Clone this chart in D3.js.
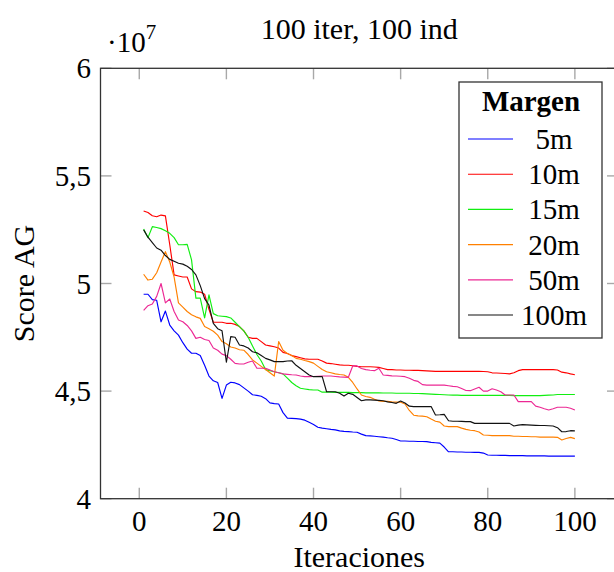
<!DOCTYPE html>
<html>
<head>
<meta charset="utf-8">
<script src="https://cdn.jsdelivr.net/npm/d3@7"></script>
<style>
  html, body { margin: 0; padding: 0; background: #fff; }
  svg text { font-family: "Liberation Serif", "Times New Roman", serif; fill: #000; }
</style>
</head>
<body>
<svg id="chart" width="614" height="572"></svg>
<script>
// Score AG (×10^7) per iteration for each margin setting
const iterations = d3.range(1, 101);

const margen5 = [
  4.950, 4.950, 4.925, 4.922, 4.822, 4.872, 4.807, 4.780, 4.760, 4.725,
  4.695, 4.676, 4.676, 4.665, 4.620, 4.570, 4.548, 4.540, 4.466, 4.528,
  4.541, 4.538, 4.530, 4.515, 4.500, 4.483, 4.480, 4.476, 4.465, 4.445,
  4.442, 4.440, 4.400, 4.374, 4.373, 4.372, 4.370, 4.365, 4.355, 4.345,
  4.332, 4.328, 4.325, 4.322, 4.320, 4.315, 4.313, 4.312, 4.310, 4.309,
  4.300, 4.293, 4.292, 4.290, 4.288, 4.286, 4.283, 4.281, 4.275, 4.268,
  4.268, 4.267, 4.267, 4.266, 4.266, 4.265, 4.262, 4.260, 4.258, 4.240,
  4.218, 4.218, 4.217, 4.217, 4.216, 4.216, 4.215, 4.215, 4.212, 4.203,
  4.202, 4.202, 4.201, 4.201, 4.200, 4.200, 4.200, 4.200, 4.199, 4.199,
  4.199, 4.199, 4.199, 4.198, 4.198, 4.198, 4.198, 4.198, 4.198, 4.198
];

const margen10 = [
  5.337, 5.330, 5.315, 5.310, 5.318, 5.314, 5.180, 5.040, 5.035, 5.030,
  5.030, 4.975, 4.962, 4.960, 4.950, 4.880, 4.820, 4.820, 4.820, 4.815,
  4.815, 4.810, 4.800, 4.780, 4.750, 4.745, 4.745, 4.730, 4.714, 4.710,
  4.706, 4.700, 4.680, 4.675, 4.665, 4.660, 4.655, 4.650, 4.648, 4.648,
  4.648, 4.640, 4.630, 4.628, 4.625, 4.622, 4.620, 4.620, 4.618, 4.615,
  4.613, 4.613, 4.613, 4.612, 4.610, 4.605, 4.600, 4.600, 4.598, 4.598,
  4.597, 4.597, 4.596, 4.596, 4.595, 4.594, 4.593, 4.592, 4.592, 4.592,
  4.592, 4.592, 4.592, 4.592, 4.592, 4.592, 4.592, 4.592, 4.591, 4.590,
  4.585, 4.584, 4.583, 4.582, 4.580, 4.585, 4.595, 4.600, 4.600, 4.600,
  4.600, 4.600, 4.600, 4.600, 4.600, 4.598, 4.588, 4.585, 4.580, 4.576
];

const margen15 = [
  5.253, 5.213, 5.264, 5.260, 5.255, 5.245, 5.233, 5.213, 5.180, 5.180,
  5.182, 5.110, 4.932, 4.932, 4.840, 4.947, 4.860, 4.850, 4.848, 4.846,
  4.840, 4.820, 4.800, 4.780, 4.750, 4.710, 4.670, 4.640, 4.600, 4.595,
  4.590, 4.585, 4.580, 4.560, 4.540, 4.525, 4.513, 4.510, 4.507, 4.505,
  4.505, 4.495, 4.495, 4.495, 4.494, 4.494, 4.494, 4.494, 4.493, 4.493,
  4.493, 4.492, 4.492, 4.492, 4.492, 4.491, 4.491, 4.491, 4.490, 4.490,
  4.490, 4.490, 4.489, 4.489, 4.488, 4.487, 4.486, 4.485, 4.484, 4.483,
  4.482, 4.481, 4.481, 4.480, 4.480, 4.480, 4.480, 4.480, 4.480, 4.480,
  4.480, 4.480, 4.480, 4.480, 4.480, 4.479, 4.479, 4.479, 4.479, 4.479,
  4.479, 4.479, 4.480, 4.481, 4.482, 4.484, 4.484, 4.484, 4.484, 4.484
];

const margen20 = [
  5.043, 5.016, 5.020, 5.050, 5.100, 5.148, 5.100, 5.030, 4.910, 4.890,
  4.870, 4.855, 4.845, 4.838, 4.800, 4.790, 4.778, 4.760, 4.730, 4.720,
  4.705, 4.700, 4.692, 4.690, 4.670, 4.645, 4.630, 4.615, 4.600, 4.585,
  4.570, 4.730, 4.690, 4.675, 4.665, 4.652, 4.648, 4.642, 4.637, 4.630,
  4.615, 4.600, 4.590, 4.585, 4.580, 4.577, 4.575, 4.564, 4.540, 4.510,
  4.482, 4.475, 4.471, 4.462, 4.454, 4.452, 4.452, 4.450, 4.449, 4.448,
  4.440, 4.410, 4.388, 4.385, 4.384, 4.381, 4.370, 4.360, 4.356, 4.338,
  4.335, 4.335, 4.335, 4.328, 4.322, 4.318, 4.316, 4.310, 4.296, 4.295,
  4.293, 4.293, 4.293, 4.293, 4.293, 4.290, 4.290, 4.289, 4.289, 4.288,
  4.288, 4.286, 4.286, 4.286, 4.286, 4.285, 4.273, 4.280, 4.285, 4.279
];

const margen50 = [
  4.875, 4.897, 4.905, 4.940, 5.000, 4.910, 4.928, 4.870, 4.830, 4.822,
  4.805, 4.780, 4.745, 4.750, 4.740, 4.735, 4.700, 4.690, 4.672, 4.665,
  4.648, 4.629, 4.626, 4.626, 4.634, 4.640, 4.606, 4.606, 4.606, 4.598,
  4.590, 4.585, 4.580, 4.578, 4.576, 4.575, 4.570, 4.567, 4.567, 4.568,
  4.569, 4.570, 4.570, 4.570, 4.568, 4.566, 4.565, 4.564, 4.617, 4.617,
  4.605, 4.600, 4.597, 4.595, 4.606, 4.575, 4.573, 4.571, 4.570, 4.569,
  4.567, 4.560, 4.550, 4.545, 4.530, 4.528, 4.528, 4.528, 4.528, 4.528,
  4.525, 4.522, 4.520, 4.512, 4.503, 4.502, 4.510, 4.518, 4.500, 4.500,
  4.511, 4.505, 4.497, 4.482, 4.482, 4.482, 4.451, 4.451, 4.451, 4.451,
  4.430, 4.425, 4.418, 4.412, 4.418, 4.425, 4.425, 4.425, 4.420, 4.412
];

const margen100 = [
  5.249, 5.215, 5.190, 5.165, 5.155, 5.130, 5.112, 5.103, 5.094, 5.090,
  5.080, 5.065, 5.040, 4.990, 4.930, 4.900, 4.815, 4.790, 4.780, 4.634,
  4.753, 4.750, 4.714, 4.710, 4.700, 4.683, 4.678, 4.665, 4.652, 4.645,
  4.637, 4.637, 4.637, 4.640, 4.641, 4.620, 4.605, 4.590, 4.575, 4.567,
  4.567, 4.567, 4.497, 4.497, 4.497, 4.490, 4.477, 4.490, 4.485, 4.470,
  4.455, 4.459, 4.459, 4.458, 4.457, 4.455, 4.450, 4.447, 4.443, 4.454,
  4.445, 4.430, 4.428, 4.428, 4.428, 4.428, 4.428, 4.389, 4.390, 4.392,
  4.362, 4.360, 4.360, 4.359, 4.358, 4.358, 4.350, 4.350, 4.350, 4.350,
  4.350, 4.350, 4.350, 4.350, 4.350, 4.338, 4.342, 4.344, 4.343, 4.342,
  4.341, 4.340, 4.340, 4.339, 4.338, 4.330, 4.311, 4.312, 4.316, 4.315
];

const seriesNames = ["5m", "10m", "15m", "20m", "50m", "100m"];
const seriesValues = [margen5, margen10, margen15, margen20, margen50, margen100];
const seriesColors = ["#0000ff", "#ff0000", "#11ee11", "#ff8000", "#ec2894", "#111111"];

const xTicks = [0, 20, 40, 60, 80, 100];
const yTicks = [4, 4.5, 5, 5.5, 6];
const yTickLabels = ["4", "4,5", "5", "5,5", "6"];

const titleText = "100 iter, 100 ind";
const xLabel = "Iteraciones";
const yLabel = "Score AG";
const legendTitle = "Margen";

// ---- layout ----
const svg = d3.select("#chart");
const x = d3.scaleLinear().domain([-8.9, 109.9]).range([100.5, 618]);
const y = d3.scaleLinear().domain([4, 6]).range([498.7, 68.3]);
const [x0, x1] = x.range();
const [yb, yt] = y.range();
const tickLen = 11;
const tickColor = "#a8a8a8";

// ticks (drawn inward on all four sides)
const ticks = svg.append("g").attr("stroke", tickColor).attr("stroke-width", 1.4);
xTicks.forEach(t => {
  ticks.append("line").attr("x1", x(t)).attr("x2", x(t)).attr("y1", yb).attr("y2", yb - tickLen);
  ticks.append("line").attr("x1", x(t)).attr("x2", x(t)).attr("y1", yt).attr("y2", yt + tickLen);
});
yTicks.forEach(t => {
  ticks.append("line").attr("x1", x0).attr("x2", x0 + tickLen).attr("y1", y(t)).attr("y2", y(t));
  ticks.append("line").attr("x1", x1).attr("x2", x1 - tickLen).attr("y1", y(t)).attr("y2", y(t));
});

// series lines
const line = d3.line().x((d, i) => x(iterations[i])).y(d => y(d));
const plot = svg.append("g");
seriesValues.forEach((vals, k) => {
  plot.append("path")
    .datum(vals)
    .attr("d", line)
    .attr("fill", "none")
    .attr("stroke", seriesColors[k])
    .attr("stroke-width", 1.15)
    .attr("stroke-linejoin", "round");
});

// axis frame
svg.append("rect")
  .attr("x", x0).attr("y", yt)
  .attr("width", x1 - x0).attr("height", yb - yt)
  .attr("fill", "none").attr("stroke", "#333").attr("stroke-width", 1.3);

// tick labels
svg.append("g").selectAll("text").data(xTicks).join("text")
  .attr("x", d => x(d)).attr("y", 531)
  .attr("text-anchor", "middle").attr("font-size", 29)
  .text(d => d);

svg.append("g").selectAll("text").data(yTicks).join("text")
  .attr("x", 91).attr("y", d => y(d) + 10)
  .attr("text-anchor", "end").attr("font-size", 29)
  .text((d, i) => yTickLabels[i]);

// scale factor label
const sci = svg.append("text").attr("x", 107).attr("y", 52).attr("font-size", 29);
sci.append("tspan").text("·10");
sci.append("tspan").attr("font-size", 21).attr("dy", -13).text("7");

// title and axis labels
svg.append("text").attr("x", (x0 + x1) / 2).attr("y", 39)
  .attr("text-anchor", "middle").attr("font-size", 30).text(titleText);
svg.append("text").attr("x", (x0 + x1) / 2).attr("y", 567)
  .attr("text-anchor", "middle").attr("font-size", 30).text(xLabel);
svg.append("text")
  .attr("transform", `translate(34,${(yb + yt) / 2}) rotate(-90)`)
  .attr("text-anchor", "middle").attr("font-size", 30).text(yLabel);

// legend
const lg = svg.append("g");
lg.append("rect").attr("x", 459).attr("y", 82).attr("width", 143).attr("height", 256)
  .attr("fill", "#fff").attr("stroke", "#333").attr("stroke-width", 1.3);
lg.append("text").attr("x", 531).attr("y", 111).attr("text-anchor", "middle")
  .attr("font-size", 29).attr("font-weight", "bold").text(legendTitle);
seriesNames.forEach((name, k) => {
  const ly = 139 + k * 35.2;
  lg.append("line").attr("x1", 468).attr("x2", 513).attr("y1", ly).attr("y2", ly)
    .attr("stroke", seriesColors[k]).attr("stroke-width", 1.15);
  lg.append("text").attr("x", 554).attr("y", ly + 10).attr("text-anchor", "middle")
    .attr("font-size", 29).text(name);
});
</script>
</body>
</html>
